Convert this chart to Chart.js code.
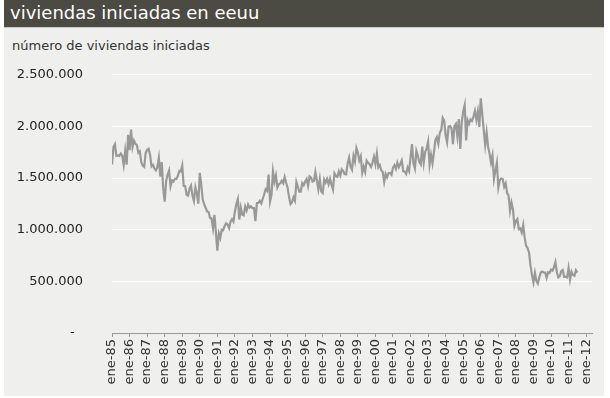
<!DOCTYPE html>
<html>
<head>
<meta charset="utf-8">
<script src="https://cdn.jsdelivr.net/npm/chart.js@4.4.1/dist/chart.umd.min.js"></script>
<style>
  html, body { margin: 0; padding: 0; background: #fff; }
  #panel { position: absolute; left: 4px; top: 0; width: 600px; height: 396px; background: #eff0ee; }
  #titulo { position: absolute; left: 4px; top: 0; width: 600px; height: 27px; background: #4b4a43;
            border-bottom: 1px solid #c8c8c2; color: #fff; font: 18px 'DejaVu Sans'; line-height: 26px; }
  #titulo span { padding-left: 6px; }
  #sub { position: absolute; left: 12px; top: 38px; font: 13px 'DejaVu Sans'; color: #333; }
  #wrap { position: absolute; left: 0; top: 38px; width: 604px; height: 360px; }
</style>
</head>
<body>
<div id="panel"></div>
<div id="titulo"><span>viviendas iniciadas en eeuu</span></div>
<div id="sub">número de viviendas iniciadas</div>
<div id="wrap"><canvas id="grafico" width="604" height="360"></canvas></div>

<script>
// etiquetas del eje x (una por enero)
const etiquetasAnio = ['ene-85', 'ene-86', 'ene-87', 'ene-88', 'ene-89', 'ene-90', 'ene-91', 'ene-92', 'ene-93',
    'ene-94', 'ene-95', 'ene-96', 'ene-97', 'ene-98', 'ene-99', 'ene-00', 'ene-01', 'ene-02', 'ene-03',
    'ene-04', 'ene-05', 'ene-06', 'ene-07', 'ene-08', 'ene-09', 'ene-10', 'ene-11', 'ene-12'];

// ticks del eje y (miles)
const ticksY = [0, 500, 1000, 1500, 2000, 2500];

// viviendas iniciadas, miles, mensual desde ene-85 hasta jul-11
const viviendas = [
    1632, 1800, 1828, 1714, 1720, 1715, 1738, 1716, 1626, 1761, 1629, 1919,   // 1985
    1771, 1970, 1800, 1862, 1832, 1819, 1744, 1758, 1654, 1621, 1609, 1742,   // 1986
    1774, 1784, 1726, 1614, 1628, 1594, 1575, 1605, 1695, 1515, 1656, 1400,   // 1987
    1271, 1473, 1532, 1573, 1421, 1478, 1467, 1493, 1492, 1522, 1569, 1563,   // 1988
    1621, 1425, 1422, 1339, 1331, 1397, 1427, 1332, 1279, 1410, 1351, 1251,   // 1989
    1551, 1437, 1289, 1248, 1212, 1177, 1171, 1115, 1110, 1014, 1145, 969,    // 1990
    798, 965, 921, 1001, 996, 1036, 1063, 1049, 1015, 1079, 1103, 1079,       // 1991
    1176, 1250, 1297, 1099, 1214, 1145, 1139, 1226, 1186, 1244, 1214, 1227,   // 1992
    1210, 1210, 1083, 1258, 1260, 1280, 1254, 1300, 1343, 1392, 1376, 1533,  // 1993
    1272, 1337, 1564, 1465, 1526, 1409, 1439, 1450, 1474, 1450, 1511, 1455,   // 1994
    1407, 1316, 1249, 1267, 1314, 1281, 1461, 1416, 1369, 1369, 1452, 1431,   // 1995
    1467, 1491, 1424, 1516, 1504, 1467, 1472, 1557, 1475, 1392, 1489, 1370,   // 1996
    1355, 1486, 1457, 1492, 1442, 1494, 1437, 1390, 1546, 1520, 1510, 1566,   // 1997
    1525, 1584, 1567, 1540, 1536, 1641, 1698, 1614, 1582, 1715, 1660, 1792,   // 1998
    1748, 1670, 1710, 1553, 1611, 1559, 1669, 1648, 1635, 1608, 1648, 1708,   // 1999
    1636, 1737, 1604, 1626, 1575, 1559, 1463, 1541, 1507, 1549, 1551, 1532,   // 2000
    1600, 1625, 1590, 1649, 1605, 1636, 1670, 1567, 1562, 1540, 1602, 1568,   // 2001
    1698, 1829, 1642, 1592, 1764, 1717, 1655, 1633, 1804, 1648, 1753, 1788,   // 2002
    1853, 1629, 1726, 1643, 1751, 1867, 1897, 1833, 1939, 1967, 2083, 2057,   // 2003
    1911, 1846, 1998, 2003, 1981, 1828, 2002, 2024, 1905, 2072, 1782, 2042,   // 2004
    2144, 2207, 1864, 2061, 2025, 2068, 2054, 2095, 2151, 2065, 2147, 1994,   // 2005
    2273, 2119, 1969, 1821, 1942, 1802, 1737, 1650, 1720, 1491, 1570, 1649,   // 2006
    1409, 1480, 1495, 1490, 1415, 1448, 1354, 1330, 1183, 1264, 1197, 1037,   // 2007
    1084, 1103, 1005, 1013, 973, 1046, 923, 844, 820, 777, 652, 560,          // 2008
    490, 582, 505, 478, 540, 585, 594, 586, 585, 534, 588, 581,               // 2009
    614, 604, 636, 687, 588, 539, 550, 599, 610, 543, 545, 539,               // 2010
    630, 517, 594, 561, 553, 608, 585                                         // 2011
];

// formato con puntos de miles
function formatoMiles(n) {
    return n.toString().replace(/\B(?=(\d{3})+(?!\d))/g, '.');
}

const fuente = { family: 'DejaVu Sans', size: 13 };

new Chart(document.getElementById('grafico'), {
    type: 'line',
    data: {
        datasets: [{
            data: viviendas.map((v, i) => ({ x: i, y: v })),
            borderColor: '#999999',
            borderWidth: 2.2,
            pointRadius: 0,
            tension: 0
        }]
    },
    options: {
        responsive: false,
        animation: false,
        layout: { padding: { top: 15, right: 12, left: 0, bottom: 0 } },
        plugins: { legend: { display: false }, tooltip: { enabled: false } },
        scales: {
            x: {
                type: 'linear',
                min: 0,
                max: 328,
                afterBuildTicks: (s) => { s.ticks = etiquetasAnio.map((_, i) => ({ value: i * 12 })); },
                afterFit: (s) => { s.height = 65; },
                ticks: {
                    autoSkip: false,
                    minRotation: 90,
                    maxRotation: 90,
                    padding: 2,
                    color: '#333',
                    font: fuente,
                    callback: (v) => etiquetasAnio[Math.round(v / 12)]
                },
                grid: { drawOnChartArea: false, drawTicks: true, tickLength: 4, color: '#999' },
                border: { color: '#999' }
            },
            y: {
                min: 0,
                max: 2500,
                afterBuildTicks: (s) => { s.ticks = ticksY.map(v => ({ value: v })); },
                afterFit: (s) => { s.width = 112; },
                ticks: {
                    padding: 29,
                    color: '#222',
                    font: fuente,
                    callback: (v) => v === 0 ? '-  ' : formatoMiles(v * 1000)
                },
                grid: {
                    drawTicks: false,
                    lineWidth: 1,
                    color: (c) => c.tick && c.tick.value === 0 ? 'rgba(0,0,0,0)' : '#ffffff'
                },
                border: { display: false }
            }
        }
    }
});
</script>
</body>
</html>
